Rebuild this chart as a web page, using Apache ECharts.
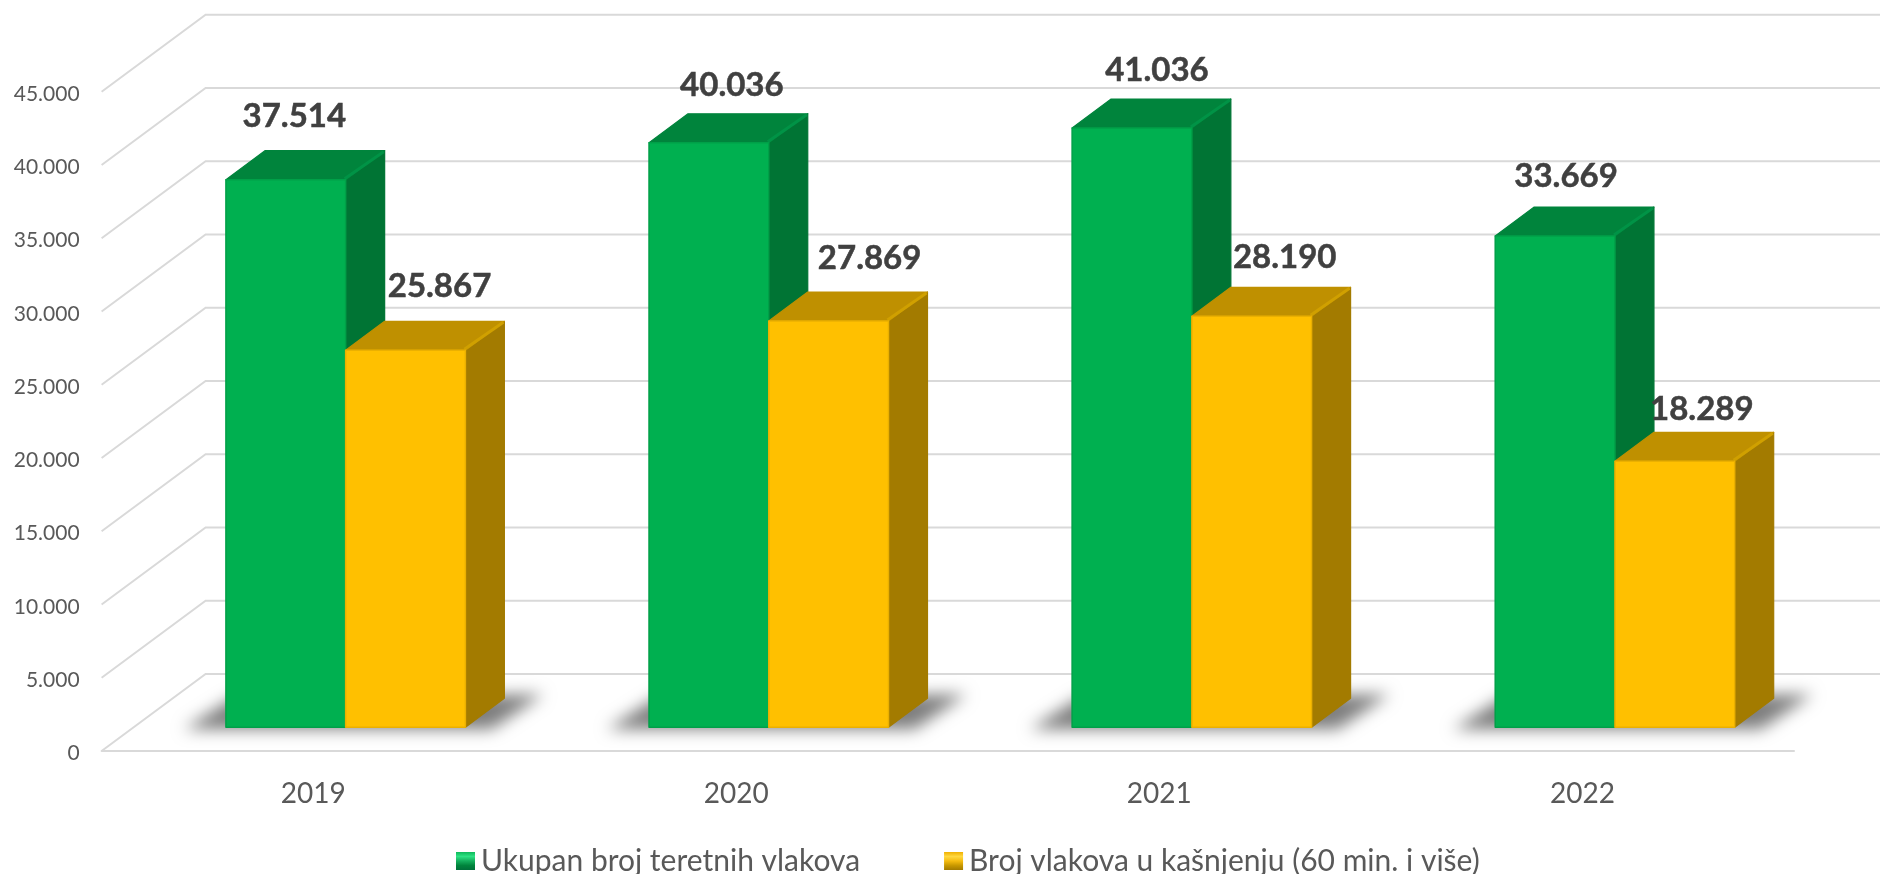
<!DOCTYPE html>
<html>
<head>
<meta charset="utf-8">
<style>html,body{margin:0;padding:0;background:#fff}#c{width:1880px;height:874px}</style>
<script src="https://cdn.jsdelivr.net/npm/echarts@6/dist/echarts.min.js"></script>
</head>
<body>
<div id="c"></div>
<script>
const categories = ['2019', '2020', '2021', '2022'];
const totalName = 'Ukupan broj teretnih vlakova';
const delayedName = 'Broj vlakova u kašnjenju (60 min. i više)';
const totalTrains = [37514, 40036, 41036, 33669];
const delayedTrains = [25867, 27869, 28190, 18289];
const axisTicks = [0, 5000, 10000, 15000, 20000, 25000, 30000, 35000, 40000, 45000];

// styling / layout of the fake 3D view (no data here)
const FONT = 'Lato, "Open Sans", sans-serif';
const WALL = [104, -77];      // floor depth
const PLANE = [32.5, -23.7];  // bars' front plane relative to the axis plane
const DEPTH = [39, -29];      // bar depth
const BAR_FRAC = 0.283;       // bar width / category width
const TOP_INSET = 2;          // bevel: the top edge sits slightly below the value
const totalNudge = [[8.5, -63], [23, -57], [25, -58], [11, -60]];
const delayedNudge = [[34, -63.5], [41, -63], [33, -59], [27, -52]];
const GREEN = {front: '#00B050', edge: '#00A048', top: '#00843C', side: '#007434', glint: '#009346'};
const GOLD = {front: '#FFC000', edge: '#EBB000', top: '#BF9000', side: '#A37B00', glint: '#D0A000'};

const fmt = v => String(v).replace(/\B(?=(\d{3})+$)/g, '.');
const pairs = arr => arr.map((v, i) => [i, v]);

function poly(points, fill, stroke) {
  return {type: 'polygon', shape: {points},
    style: {fill, stroke: stroke || fill, lineWidth: 1.2, lineJoin: 'round'}};
}

function barRenderer(side, palette, nudges) {
  return function (params, api) {
    const i = api.value(0);
    const p = api.coord([i, api.value(1)]);
    const b = api.coord([i, 0]);
    const w = api.size([1, 0])[0] * BAR_FRAC;
    const x0 = p[0] + PLANE[0] + (side < 0 ? -w : 0);
    const x1 = x0 + w;
    const yt = p[1] + PLANE[1] + TOP_INSET;
    const yb = b[1] + PLANE[1];
    const dx = DEPTH[0], dy = DEPTH[1];
    const n = nudges[i];
    return {type: 'group', children: [
      poly([[x1, yt], [x1 + dx, yt + dy], [x1 + dx, yb + dy], [x1, yb]], palette.side),
      poly([[x0, yt], [x0 + dx, yt + dy], [x1 + dx, yt + dy], [x1, yt]], palette.top),
      {type: 'line', shape: {x1: x1 - 1, y1: yt - 1, x2: x1 + dx - 1, y2: yt + dy + 1},
        style: {stroke: palette.glint, lineWidth: 3}},
      {type: 'rect', shape: {x: x0, y: yt, width: w, height: yb - yt},
        style: {fill: palette.front, stroke: palette.edge, lineWidth: 1.5, lineJoin: 'round'}},
      {type: 'text', z2: 100, style: {
        text: fmt(api.value(1)),
        x: (x0 + x1) / 2 + n[0], y: yt + n[1],
        align: 'center', verticalAlign: 'middle',
        font: 'bold 33px ' + FONT, fill: '#404040',
        stroke: '#404040', lineWidth: 0.5}}
    ]};
  };
}

function wallRenderer(params, api) {
  const y = api.coord([0, api.value(1)])[1];
  const cs = params.coordSys;
  return {type: 'polyline', shape: {points: [
      [cs.x, y], [cs.x + WALL[0], y + WALL[1]], [cs.x + cs.width + WALL[0], y + WALL[1]]
    ]}, style: {fill: null, stroke: '#D9D9D9', lineWidth: 2}};
}

// the footprint itself is drawn off-canvas, so only its soft blurred shadow shows
const SHADOW_SHIFT = 3000;
function shadowRenderer(params, api) {
  const i = api.value(0);
  const b = api.coord([i, 0]);
  const w = api.size([1, 0])[0] * BAR_FRAC;
  const L = b[0] + PLANE[0] - w, R = b[0] + PLANE[0] + w, B = b[1] + PLANE[1];
  const s = SHADOW_SHIFT;
  return {type: 'polygon', shape: {points: [
      [L - 42, B + 2], [L + 8, B - 30], [R + 78, B - 33], [R + 26, B + 2]
    ]}, style: {fill: '#808080', shadowBlur: 16, shadowColor: '#7E7E7E', shadowOffsetX: s}, x: -s};
}

function legendFill(stops) {
  return {type: 'linear', x: 0, y: 0, x2: 0, y2: 1,
    colorStops: stops.map((color, k) => ({offset: k / (stops.length - 1), color}))};
}

const chart = echarts.init(document.getElementById('c'), null, {renderer: 'canvas'});
chart.setOption({
  animation: false,
  backgroundColor: '#fff',
  grid: {left: 101.6, right: 86, top: 91.7, bottom: 123, containLabel: false},
  legend: {
    left: 456, top: 846, icon: 'rect', itemWidth: 19, itemHeight: 18, itemGap: 84, padding: 0,
    textStyle: {fontFamily: FONT, fontSize: 30, color: '#595959', padding: [0, 0, 0, 1]},
    data: [
      {name: totalName, itemStyle: {color: legendFill(['#0FB85A', '#2EE283', '#14AE5C', '#00843C', '#00703A'])}},
      {name: delayedName, itemStyle: {color: legendFill(['#F0B000', '#FFD840', '#F5BC10', '#C89800', '#A37B00'])}}
    ]
  },
  xAxis: {
    type: 'category', data: categories, boundaryGap: true,
    axisTick: {show: false},
    axisLine: {show: true, lineStyle: {color: '#D9D9D9', width: 2}},
    axisLabel: {fontFamily: FONT, fontSize: 28, color: '#595959', margin: 29}
  },
  yAxis: {
    type: 'value', min: 0, max: 45000, interval: 5000,
    axisLine: {show: false}, axisTick: {show: false}, splitLine: {show: false},
    axisLabel: {fontFamily: FONT, fontSize: 21, color: '#595959', margin: 22,
      verticalAlign: 'top', lineHeight: 5, formatter: fmt}
  },
  series: [
    {type: 'custom', name: 'wall', z: 1, silent: true, renderItem: wallRenderer,
      encode: {x: 0, y: 1}, data: axisTicks.map(t => [0, t])},
    {type: 'custom', name: 'shadow', z: 2, silent: true, renderItem: shadowRenderer,
      encode: {x: 0, y: 1}, data: categories.map((c, i) => [i, 0])},
    {type: 'custom', name: totalName, z: 3, renderItem: barRenderer(-1, GREEN, totalNudge),
      itemStyle: {color: GREEN.front}, encode: {x: 0, y: 1}, data: pairs(totalTrains)},
    {type: 'custom', name: delayedName, z: 4, renderItem: barRenderer(1, GOLD, delayedNudge),
      itemStyle: {color: GOLD.front}, encode: {x: 0, y: 1}, data: pairs(delayedTrains)}
  ]
});
</script>
</body>
</html>
